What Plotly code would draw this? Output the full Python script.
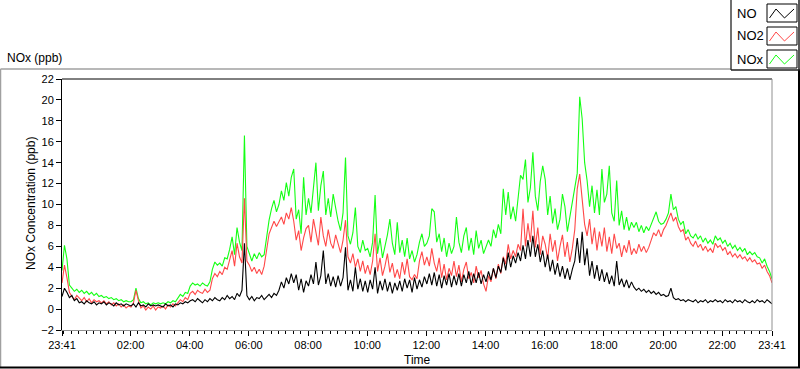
import pandas as pd
import plotly.graph_objects as go

# ---------------- data (5-minute readings, 23:41 -> 23:41 next day) ----------------
no_ppb = [
    1.2, 2.0, 1.6, 1.1,
    1.3, 0.8, 1.0, 0.6, 0.7, 0.5, 0.8, 0.6, 0.5, 0.7, 0.4, 0.6,
    0.5, 0.7, 0.4, 0.6, 0.5, 0.3, 0.6, 0.4, 0.5, 0.3, 0.5, 0.4,
    0.3, 0.5, 0.2, 0.6, 0.3, 0.4, 0.2, 0.5, 0.3, 0.4, 0.3, 0.4,
    0.3, 0.2, 0.5, 0.3, 0.4, 0.2, 0.5, 0.4, 0.6, 0.5, 0.7, 0.6,
    0.8, 0.9, 0.7, 1.0, 0.8, 0.6, 0.9, 0.7, 1.0, 0.8, 1.1, 0.9,
    0.8, 1.1, 0.9, 1.3, 1.0, 1.2, 0.9, 1.5, 1.2, 1.8, 6.3, 1.3,
    0.9, 1.2, 0.8, 1.1, 1.0, 1.3, 0.9, 1.2, 1.4, 1.1, 1.5, 1.3,
    1.8, 2.6, 2.0, 3.0, 2.4, 3.4, 2.5, 3.3, 1.8, 2.9, 1.6, 2.7,
    2.2, 3.3, 2.4, 4.5, 2.3, 3.2, 5.6, 2.4, 3.4, 2.2, 3.1, 2.1,
    3.2, 2.2, 3.0, 5.9, 1.8, 2.8, 1.7, 4.0, 1.9, 2.9, 1.7, 2.7,
    1.6, 2.8, 1.9, 4.0, 1.5, 2.7, 1.8, 2.9, 1.7, 2.6, 1.5, 2.5,
    1.8, 2.7, 1.7, 2.9, 2.0, 2.8, 1.6, 3.0, 1.9, 2.8, 2.1, 3.1,
    2.4, 3.4, 2.3, 3.5, 2.2, 3.3, 2.0, 3.2, 2.3, 3.4, 2.1, 3.2,
    2.3, 3.4, 2.2, 3.3, 2.5, 3.6, 2.3, 3.4, 2.5, 3.5, 2.4, 3.3,
    2.6, 3.6, 2.8, 3.9, 3.0, 4.1, 3.5, 4.9, 3.7, 5.4, 4.0, 5.1,
    4.4, 5.4, 4.6, 6.1, 4.8, 6.6, 5.0, 7.0, 5.0, 6.2, 4.5, 5.6,
    4.0, 5.2, 3.6, 4.7, 3.3, 4.4, 3.1, 4.1, 2.9, 3.9, 2.8, 3.8,
    4.6, 6.8, 4.4, 7.4, 4.2, 5.8, 3.2, 4.6, 2.9, 4.2, 2.7, 3.8,
    2.6, 3.5, 2.4, 3.2, 2.2, 4.6, 2.3, 2.9, 2.1, 2.8, 2.0, 2.6,
    2.1, 1.8, 2.0, 1.7, 1.9, 1.6, 1.8, 1.5, 1.7, 1.4, 1.6, 1.3,
    1.4, 1.2, 1.3, 2.0, 1.1, 0.9, 1.0, 0.8, 0.9, 0.7, 0.9, 0.8,
    0.7, 0.9, 0.6, 0.8, 0.7, 0.9, 0.6, 0.8, 0.7, 0.9, 0.7, 0.8,
    0.6, 0.9, 0.7, 0.8, 0.6, 0.9, 0.7, 0.8, 0.6, 0.9, 0.7, 0.6,
    0.8, 0.6, 0.9, 0.7, 0.8, 0.6, 0.9, 0.7, 0.5,
]

no2_ppb = [
    2.5, 4.2, 3.0, 1.6,
    1.2, 0.9, 1.3, 1.0, 0.8, 1.1, 0.7, 1.0, 0.6, 0.9, 0.7, 0.8,
    0.6, 0.8, 0.5, 0.7, 0.4, 0.6, 0.3, 0.5, 0.2, 0.4, 0.1, 0.3,
    0.2, 0.6, 1.8, 0.8, 0.1, 0.3, -0.1, 0.2, 0.0, 0.3, -0.1, 0.2,
    0.1, 0.3, 0.0, 0.4, 0.2, 0.5, 0.3, 0.6, 0.9, 0.7, 1.1, 0.9,
    1.5, 1.7, 1.4, 1.8, 1.6, 1.5, 1.9, 1.6, 1.8, 2.9, 3.4, 3.1,
    3.6, 3.3, 4.0, 3.8, 4.6, 5.6, 4.1, 6.3, 5.0, 4.4, 10.6, 4.6,
    4.2, 3.6, 4.0, 3.4, 3.8, 3.3, 4.1, 5.8, 7.2, 7.8, 8.4, 7.9,
    8.3, 8.8, 8.1, 9.2, 8.6, 9.7, 8.4, 6.6, 7.5, 5.6, 6.8, 7.7,
    8.0, 6.4, 8.6, 7.2, 6.1, 8.8, 7.0, 6.0, 7.6, 6.3, 5.8, 7.1,
    6.2, 5.4, 6.6, 8.5, 5.0, 4.4, 5.3, 4.0, 4.8, 3.6, 4.6, 3.4,
    4.2, 3.3, 4.6, 7.2, 3.6, 4.9, 3.2, 4.1, 5.3, 3.5, 4.4, 3.0,
    3.8, 2.9, 4.5, 3.3, 4.8, 3.1, 2.8, 3.3, 2.9, 4.6, 5.5, 4.2,
    5.0, 4.1, 5.8, 4.4, 3.6, 4.9, 3.0, 4.3, 2.8, 3.9, 3.2, 4.6,
    3.1, 4.2, 2.6, 3.8, 4.5, 2.9, 3.5, 2.5, 4.1, 3.0, 3.7, 2.4,
    1.7, 3.2, 2.6, 3.9, 2.9, 4.3, 3.4, 5.0, 4.3, 6.2, 4.8, 5.6,
    5.0, 6.2, 5.6, 9.6, 6.0, 8.2, 6.4, 9.4, 5.9, 7.8, 5.2, 7.0,
    6.2, 4.8, 7.2, 5.5, 6.6, 4.6, 6.0, 7.1, 5.0, 6.4, 4.5, 5.8,
    7.6, 11.5, 12.9, 10.2, 8.1, 7.0, 8.6, 6.2, 7.8, 5.6, 7.4, 6.0,
    7.8, 5.5, 6.9, 5.3, 7.2, 5.8, 6.3, 5.0, 6.1, 5.4, 6.6, 5.2,
    5.8, 5.3, 6.2, 5.5, 6.0, 5.4, 5.9, 6.6, 7.3, 7.0, 7.6, 6.9,
    7.6, 8.0, 8.6, 9.2, 8.4, 8.8, 7.9, 7.4, 7.6, 6.6, 6.9, 6.3,
    6.0, 6.5, 5.9, 6.2, 5.6, 6.0, 5.5, 5.8, 5.4, 6.3, 5.9, 6.1,
    5.6, 5.9, 5.2, 5.5, 5.0, 5.3, 4.9, 5.2, 4.8, 5.0, 4.6, 4.9,
    4.5, 4.7, 4.3, 4.4, 3.9, 4.2, 3.6, 3.2, 2.5,
]

nox_ppb = [
    3.7, 6.1, 4.8, 2.3,
    2.0, 1.7, 1.9, 1.6, 1.8, 1.5, 1.7, 1.4, 1.6, 1.3, 1.5, 1.2,
    1.3, 1.1, 1.2, 1.0, 1.1, 0.9, 1.0, 0.8, 0.9, 0.7, 0.8, 0.7,
    0.7, 0.9, 2.0, 1.0, 0.6, 0.7, 0.5, 0.6, 0.4, 0.6, 0.5, 0.6,
    0.5, 0.6, 0.5, 0.7, 0.6, 0.8, 0.7, 1.0, 1.4, 1.2, 1.6, 1.5,
    2.2, 2.5, 2.3, 2.4, 2.2, 2.5, 2.3, 2.2, 2.6, 3.8, 4.5, 4.2,
    4.4, 4.1, 4.9, 4.8, 5.7, 6.9, 5.2, 7.8, 6.4, 5.6, 16.6, 6.0,
    5.2, 4.6, 5.3, 4.8, 5.4, 5.0, 5.2, 6.9, 8.5, 9.6, 10.4, 9.3,
    10.0, 11.3, 10.4, 12.1, 10.8, 12.6, 13.4, 8.6, 9.5, 7.2, 12.6, 9.0,
    10.6, 9.2, 11.4, 14.0, 9.4, 11.8, 13.2, 9.0, 10.6, 8.8, 11.0, 9.6,
    8.4, 7.5, 9.2, 14.5, 7.0, 6.2, 7.3, 9.7, 6.0, 5.4, 6.6, 5.6,
    5.8, 5.0, 6.4, 10.9, 5.3, 6.8, 4.9, 6.0, 7.1, 8.6, 6.3, 5.2,
    8.3, 5.4, 6.6, 5.0, 6.8, 4.8, 5.6, 4.5, 5.2, 6.4, 7.2, 6.0,
    6.3, 7.0, 9.6, 9.3, 6.4, 7.2, 5.5, 6.8, 5.0, 6.3, 5.3, 6.0,
    8.8, 6.4, 5.4, 7.0, 7.8, 5.6, 6.8, 5.2, 7.5, 5.8, 6.6, 5.3,
    5.9, 6.6, 6.0, 7.6, 6.8, 8.1, 7.2, 11.5, 9.0, 11.2, 8.6, 9.8,
    8.4, 10.6, 12.8, 12.4, 14.3, 10.2, 11.6, 15.0, 10.8, 9.4, 12.2, 13.7,
    12.4, 9.0, 10.8, 8.2, 9.6, 7.6, 8.6, 11.0, 9.8, 7.4, 8.8, 10.4,
    11.6, 13.0, 20.3, 18.2, 14.0, 12.3, 9.8, 11.8, 9.2, 11.4, 9.0, 13.4,
    10.2, 11.0, 13.7, 9.2, 8.4, 12.3, 8.0, 9.4, 7.6, 8.8, 7.5, 8.3,
    7.8, 8.3, 7.4, 8.0, 7.3, 7.9, 7.5, 8.1, 8.6, 9.3, 8.4, 8.1,
    8.2, 8.6, 9.2, 11.0, 9.5, 9.8, 8.6, 8.1, 8.4, 7.2, 7.6, 7.0,
    6.8, 7.2, 6.7, 7.0, 6.4, 6.8, 6.3, 6.6, 6.2, 7.0, 6.6, 6.8,
    6.3, 6.6, 6.0, 6.3, 5.8, 6.1, 5.6, 5.9, 5.5, 5.8, 5.2, 5.5,
    5.2, 5.4, 5.0, 4.9, 4.4, 4.8, 4.1, 3.6, 2.9,
]

series_names = ["NO", "NO2", "NOx"]
series_colors = ["#000000", "#ff4848", "#14ff14"]

start_time = "2014-03-01 23:41"
end_time = "2014-03-02 23:41"
sample_step = "5min"

tick_hours = ["02:00", "04:00", "06:00", "08:00", "10:00",
              "12:00", "14:00", "16:00", "18:00", "20:00", "22:00"]

# ---------------- build ----------------
n = len(no_ppb)
times = pd.date_range(start_time, periods=n, freq=sample_step)
t0 = pd.Timestamp(start_time)
t1 = pd.Timestamp(end_time)

major_vals = [t0] + [pd.Timestamp("2014-03-02 " + h) for h in tick_hours] + [t1]
major_text = [v.strftime("%H:%M") for v in major_vals]
minor_vals = list(pd.date_range("2014-03-01 23:45", t1, freq="15min"))

FONT = "Liberation Sans"

fig = go.Figure()
# draw order: NOx (bottom), NO2, NO (top)
for name, vals, col in [("NOx", nox_ppb, series_colors[2]),
                        ("NO2", no2_ppb, series_colors[1]),
                        ("NO", no_ppb, series_colors[0])]:
    fig.add_trace(go.Scatter(x=times, y=vals, mode="lines", name=name,
                             line=dict(color=col, width=1.1)))

# pixel -> paper helpers (plot area: x 62..772, y 79..330)
L, R, T, B = 62, 772, 79, 330
def X(px):
    return (px - L) / (R - L)
def Y(py):
    return (B - py) / (B - T)

shapes = []
def line(x0, y0, x1, y1, color, width=1):
    shapes.append(dict(type="line", xref="paper", yref="paper",
                       x0=X(x0), y0=Y(y0), x1=X(x1), y1=Y(y1),
                       line=dict(color=color, width=width)))

# plot-area frame: top black, right gray
line(L, T, R, T, "#000000", 1)
line(R, T, R, B, "#909090", 1)
# outer frame: left/top gray, right/bottom dark
line(0.5, 69, 731, 69, "#a0a0a0", 1.5)
line(0.5, 69, 0.5, 368, "#a0a0a0", 1.5)
line(0, 367.5, 800, 367.5, "#000000", 2)
line(799, 70, 799, 368, "#000000", 2)
# legend box
line(731, 0, 731, 70, "#404040", 1.5)
line(731, 70, 800, 70, "#202020", 1.5)
line(799, 0, 799, 70, "#202020", 1.5)

annotations = []
for k, (name, col) in enumerate(zip(series_names, series_colors)):
    top = 4 + 23 * k
    shapes.append(dict(type="rect", xref="paper", yref="paper",
                       x0=X(767), x1=X(797), y0=Y(top), y1=Y(top + 18),
                       line=dict(color="#000000", width=1), fillcolor="white"))
    pts = [(769.5, top + 14), (776, top + 5), (784.5, top + 14), (794, top + 5)]
    path = "M " + " L ".join(f"{X(a):.5f},{Y(b):.5f}" for a, b in pts)
    shapes.append(dict(type="path", xref="paper", yref="paper", path=path,
                       line=dict(color=col, width=1)))
    annotations.append(dict(text=name, xref="paper", yref="paper",
                            x=X(735), y=Y(top + 9), xanchor="left", yanchor="middle",
                            showarrow=False, font=dict(family=FONT, size=13, color="#000")))

annotations.append(dict(text="NOx (ppb)", xref="paper", yref="paper",
                        x=X(5), y=Y(58), xanchor="left", yanchor="middle",
                        showarrow=False, font=dict(family=FONT, size=12, color="#000")))
annotations.append(dict(text="NOx Concentration (ppb)", xref="paper", yref="paper",
                        x=X(31), y=Y(204), xanchor="center", yanchor="middle",
                        textangle=-90, showarrow=False,
                        font=dict(family=FONT, size=12, color="#000")))
annotations.append(dict(text="Time", xref="paper", yref="paper",
                        x=X(417), y=Y(360), xanchor="center", yanchor="middle",
                        showarrow=False, font=dict(family=FONT, size=12, color="#000")))

fig.update_layout(
    width=800, height=369,
    margin=dict(l=L, r=800 - R, t=T, b=369 - B),
    paper_bgcolor="white", plot_bgcolor="white",
    showlegend=False,
    font=dict(family=FONT, size=11, color="#000"),
    shapes=shapes, annotations=annotations,
    xaxis=dict(type="date", range=[t0, t1], tickmode="array",
               tickvals=major_vals, ticktext=major_text,
               ticks="outside", ticklen=5, tickcolor="#000", tickwidth=1,
               showgrid=False, zeroline=False, showline=True,
               linecolor="#909090", linewidth=1,
               tickfont=dict(family=FONT, size=11, color="#000"),
               minor=dict(tickmode="array", tickvals=minor_vals, ticks="outside",
                          ticklen=3, tickcolor="#000", tickwidth=1, showgrid=False)),
    yaxis=dict(range=[-2, 22], tickmode="linear", tick0=0, dtick=2,
               ticks="outside", ticklen=5, tickcolor="#000", tickwidth=1,
               showgrid=False, zeroline=False, showline=True,
               linecolor="#000", linewidth=1,
               tickfont=dict(family=FONT, size=11, color="#000")),
)

fig.write_html("out.html", config={"displayModeBar": False},
               post_script="document.body.style.margin='0px';document.body.style.overflow='hidden';")
